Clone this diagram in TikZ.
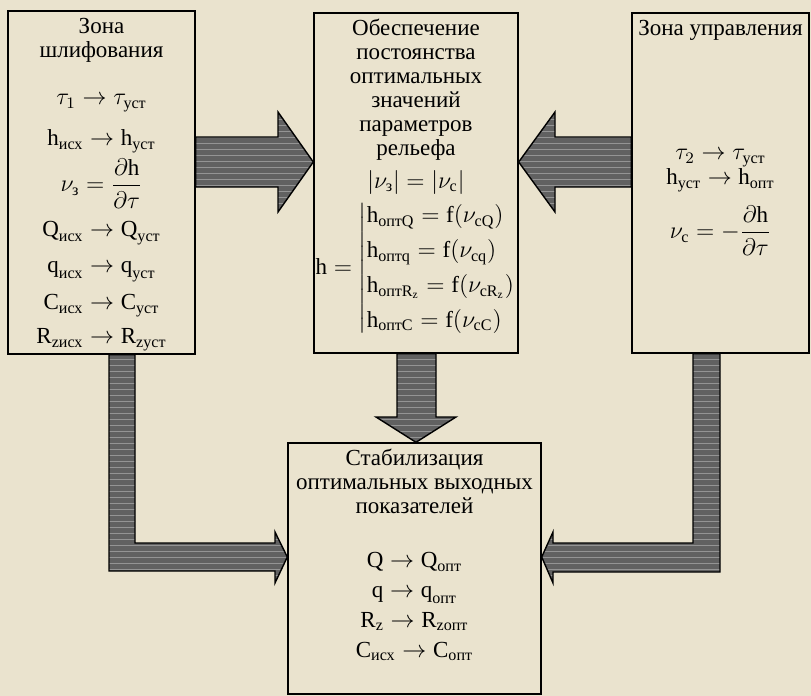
\documentclass[tikz,border=0pt]{standalone}
\usepackage{fontspec}
\setmainfont{Liberation Serif}
\usepackage{amsmath}
\usetikzlibrary{patterns,positioning}
\definecolor{paper}{RGB}{234,227,206}
\setlength{\lineskiplimit}{-200pt}
\tikzset{
  zone/.style={draw, line width=0.7pt, rectangle, inner sep=0pt},
  txt/.style={align=center, inner sep=0pt, font=\fontsize{11.5}{12}\selectfont},
  blockarrow/.style={draw=black, line width=0.7pt, preaction={fill=black!62},
    pattern=horizontal lines, pattern color=black!42}
}
\begin{document}
\begin{tikzpicture}[x=0.5pt, y=-0.5pt]
\fill[paper] (0,0) rectangle (811,696);
\useasboundingbox (0,0) rectangle (811,696);

% boxes
\node[zone, minimum width=93.5pt, minimum height=171.5pt] (grind) at (101.5,182.5) {};
\node[zone, minimum width=102pt, minimum height=170pt] (relief) at (416,183) {};
\node[zone, minimum width=88.5pt, minimum height=170pt] (ctrl) at (720.5,183) {};
\node[zone, minimum width=126.5pt, minimum height=125.5pt] (stab) at (414.5,568.5) {};

% texts
\node[txt, below=4pt of grind.north] (grindtxt) {Зона\\ шлифования\\[11.5pt]
  $\tau_1\to\tau_{\text{уст}}$\\[8.5pt]
  $\text{h}_{\text{исх}}\to\text{h}_{\text{уст}}$\\[11pt]
  $\nu_{\text{з}}=\dfrac{\partial\text{h}}{\partial\tau}$\\[10.5pt]
  $\text{Q}_{\text{исх}}\to\text{Q}_{\text{уст}}$\\[6pt]
  $\text{q}_{\text{исх}}\to\text{q}_{\text{уст}}$\\[6.5pt]
  $\text{C}_{\text{исх}}\to\text{C}_{\text{уст}}$\\[5pt]
  $\text{R}_{\text{zисх}}\to\text{R}_{\text{zуст}}$};
\node[txt, below=3pt of relief.north] (relieftxt) {Обеспечение\\ постоянства\\
  оптимальных\\ значений\\ параметров\\ рельефа\\[4.5pt]
  $|\nu_{\text{з}}|=|\nu_{\text{с}}|$\\[31pt]
  {$\lineskiplimit=0pt \text{h}=\renewcommand{\arraystretch}{1.45}\left|\begin{array}{@{}l@{}}
    \text{h}_{\text{оптQ}}=\text{f}(\nu_{\text{cQ}})\\
    \text{h}_{\text{оптq}}=\text{f}(\nu_{\text{cq}})\\
    \text{h}_{\text{оптR}_{\text{z}}}=\text{f}(\nu_{\text{cR}_{\text{z}}})\\
    \text{h}_{\text{оптC}}=\text{f}(\nu_{\text{cC}})
  \end{array}\right.$}};
\node[txt, below=4pt of ctrl.north] (ctrltxt) {Зона управления\\[50pt]
  $\tau_2\to\tau_{\text{уст}}$\\[0.5pt]
  $\text{h}_{\text{уст}}\to\text{h}_{\text{опт}}$\\[15pt]
  $\nu_{\text{с}}=-\dfrac{\partial\text{h}}{\partial\tau}$};
\node[txt, below=3pt of stab.north] (stabtxt) {Стабилизация\\
  оптимальных выходных\\ показателей\\[15pt]
  $\text{Q}\to\text{Q}_{\text{опт}}$\\[3pt]
  $\text{q}\to\text{q}_{\text{опт}}$\\[3pt]
  $\text{R}_{\text{z}}\to\text{R}_{\text{zопт}}$\\[3pt]
  $\text{C}_{\text{исх}}\to\text{C}_{\text{опт}}$};

% block arrows
\draw[blockarrow] (grind.east |- 0,137) -- (278,137) -- (278,112) -- (relief.west |- 0,162)
  -- (278,212) -- (278,187) -- (grind.east |- 0,187) -- cycle;
\draw[blockarrow] (ctrl.west |- 0,137) -- (555,137) -- (555,112) -- (relief.east |- 0,162)
  -- (555,212) -- (555,187) -- (ctrl.west |- 0,187) -- cycle;
\draw[blockarrow] (397,0 |- relief.south) -- (397,417) -- (376,417) -- (416,0 |- stab.north)
  -- (456,417) -- (436,417) -- (436,0 |- relief.south) -- cycle;
\draw[blockarrow] (109,0 |- grind.south) -- (109,571) -- (275,571) -- (275,583)
  -- (stab.west |- 0,557) -- (275,532) -- (275,543) -- (135,543) -- (135,0 |- grind.south) -- cycle;
\draw[blockarrow] (720,0 |- ctrl.south) -- (720,572) -- (553,572) -- (553,583)
  -- (stab.east |- 0,557) -- (553,532) -- (553,543) -- (693,543) -- (693,0 |- ctrl.south) -- cycle;
\end{tikzpicture}
\end{document}
